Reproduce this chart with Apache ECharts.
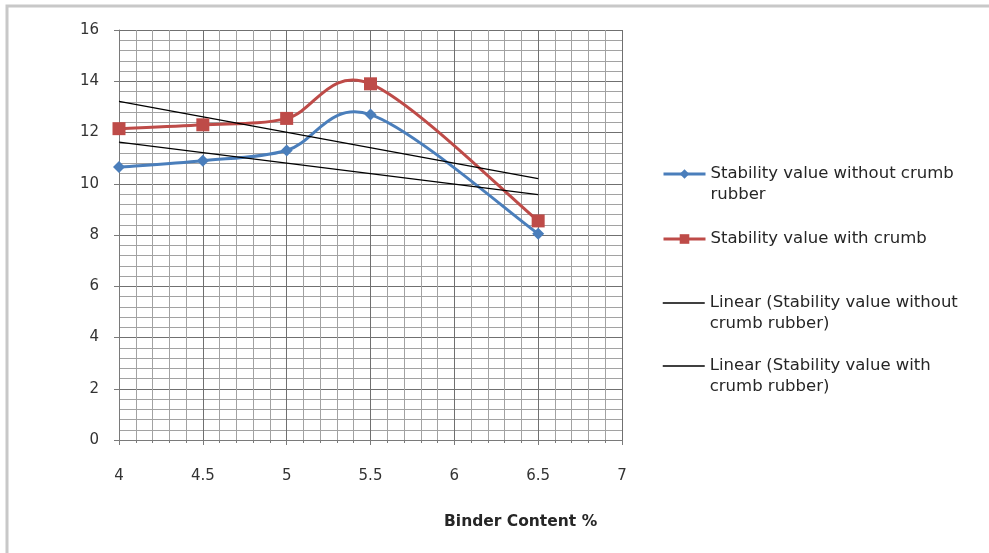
<!DOCTYPE html>
<html>
<head>
<meta charset="utf-8">
<script src="https://cdn.jsdelivr.net/npm/echarts@6/dist/echarts.min.js"></script>
<style>
  html, body { margin: 0; padding: 0; background: #fff; }
  #chart { width: 989px; height: 553px; }
</style>
</head>
<body>
<div id="chart"></div>
<script>
// Binder content (%) tested
const binderContent = [4, 4.5, 5, 5.5, 6.5];
// Marshall stability values
const stabilityWithout = [10.65, 10.9, 11.3, 12.7, 8.05];
const stabilityWith = [12.15, 12.3, 12.55, 13.9, 8.55];

const seriesNames = [
  'Stability value without crumb rubber',
  'Stability value with crumb',
  'Linear (Stability value without crumb rubber)',
  'Linear (Stability value with crumb rubber)'
];
// legend labels as wrapped in the legend box
const legendLines = [
  ['Stability value without crumb', 'rubber'],
  ['Stability value with crumb'],
  ['Linear (Stability value without', 'crumb rubber)'],
  ['Linear (Stability value with', 'crumb rubber)']
];
const xAxisTitle = 'Binder Content %';

// least-squares linear trend, evaluated at first and last x
function linearTrend(xs, ys) {
  const n = xs.length;
  const mx = xs.reduce((a, b) => a + b, 0) / n;
  const my = ys.reduce((a, b) => a + b, 0) / n;
  let sxy = 0, sxx = 0;
  for (let i = 0; i < n; i++) {
    sxy += (xs[i] - mx) * (ys[i] - my);
    sxx += (xs[i] - mx) * (xs[i] - mx);
  }
  const k = sxy / sxx;
  const b = my - k * mx;
  const x0 = xs[0], x1 = xs[n - 1];
  return [[x0, k * x0 + b], [x1, k * x1 + b]];
}

const pairs = ys => binderContent.map((x, i) => [x, ys[i]]);
const FONT = 'DejaVu Sans';
const BLUE = '#4a7ebb';
const RED = '#be4b48';
const LINE_H = 21;

// smoothed connecting line: one cubic Bezier per segment (Catmull-Rom
// tangents) between neighbouring data points, mapped through the axes
function smoothSegment(ys, color) {
  const n = binderContent.length;
  return function (params, api) {
    const i = params.dataIndex;
    if (i >= n - 1) return { type: 'group', children: [] };
    const pt = k => {
      const j = Math.max(0, Math.min(n - 1, k));
      return api.coord([binderContent[j], ys[j]]);
    };
    const p0 = pt(i - 1), p1 = pt(i), p2 = pt(i + 1), p3 = pt(i + 2);
    return {
      type: 'bezierCurve',
      shape: {
        x1: p1[0], y1: p1[1],
        x2: p2[0], y2: p2[1],
        cpx1: p1[0] + (p2[0] - p0[0]) / 6,
        cpy1: p1[1] + (p2[1] - p0[1]) / 6,
        cpx2: p2[0] - (p3[0] - p1[0]) / 6,
        cpy2: p2[1] - (p3[1] - p1[1]) / 6
      },
      style: { stroke: color, lineWidth: 3, fill: null, lineCap: 'round' }
    };
  };
}

// one legend block per series; wrapped labels get an empty leading line so
// the icon sits beside the first line of text
function legendItem(i, centerY, lineStyle, hideSymbol) {
  const lines = legendLines[i];
  const text = lines.length > 1 ? ' \n' + lines.join('\n') : lines[0];
  const boxH = (lines.length > 1 ? lines.length + 1 : 1) * LINE_H;
  const item = {
    data: [seriesNames[i]],
    left: 662,
    top: centerY - boxH / 2,
    padding: 0,
    orient: 'vertical',
    itemWidth: 42,
    itemHeight: 12,
    itemGap: 0,
    selectedMode: false,
    formatter: () => text,
    lineStyle: lineStyle,
    textStyle: {
      fontFamily: FONT,
      fontSize: 16.5,
      color: '#262626',
      lineHeight: LINE_H
    }
  };
  if (hideSymbol) item.itemStyle = { opacity: 0 };
  return item;
}

const chart = echarts.init(document.getElementById('chart'), null, { renderer: 'canvas' });
chart.setOption({
  animation: false,
  backgroundColor: '#fff',
  textStyle: { fontFamily: FONT },
  grid: { left: 119, right: 367, top: 30, bottom: 113, containLabel: false },
  graphic: [
    {
      type: 'rect',
      shape: { x: 7, y: 6, width: 1000, height: 600 },
      style: { fill: null, stroke: '#c8c8c8', lineWidth: 3 },
      silent: true
    },
    {
      type: 'text',
      left: 444,
      top: 514,
      style: {
        text: xAxisTitle,
        fontFamily: FONT,
        fontSize: 15.5,
        fontWeight: 'bold',
        fill: '#262626'
      }
    }
  ],
  legend: [
    legendItem(0, 174, { color: BLUE, width: 3, opacity: 1 }, false),
    legendItem(1, 239, { color: RED, width: 3, opacity: 1 }, false),
    legendItem(2, 303, { color: '#000', width: 1.5, opacity: 1 }, true),
    legendItem(3, 366, { color: '#000', width: 1.5, opacity: 1 }, true)
  ],
  xAxis: {
    type: 'value',
    min: 4,
    max: 7,
    interval: 0.5,
    axisLine: { show: true, lineStyle: { color: '#7a7a7a', width: 1 } },
    axisTick: { show: true, length: 5, lineStyle: { color: '#7a7a7a' } },
    minorTick: { show: true, splitNumber: 5, length: 3, lineStyle: { color: '#7a7a7a' } },
    axisLabel: {
      margin: 29,
      fontFamily: FONT,
      fontSize: 15,
      color: '#333',
      formatter: v => String(v)
    },
    splitLine: { show: true, lineStyle: { color: '#707070', width: 1 } },
    minorSplitLine: { show: true, lineStyle: { color: '#a2a2a2', width: 1 } }
  },
  yAxis: {
    type: 'value',
    min: 0,
    max: 16,
    interval: 2,
    axisLine: { show: true, lineStyle: { color: '#7a7a7a', width: 1 } },
    axisTick: { show: true, length: 5, lineStyle: { color: '#7a7a7a' } },
    minorTick: { show: false, splitNumber: 5 },
    axisLabel: {
      margin: 20,
      fontFamily: FONT,
      fontSize: 15,
      color: '#333'
    },
    splitLine: { show: true, lineStyle: { color: '#707070', width: 1 } },
    minorSplitLine: { show: true, lineStyle: { color: '#a2a2a2', width: 1 } }
  },
  series: [
    {
      name: 'curve-without',
      type: 'custom',
      coordinateSystem: 'cartesian2d',
      data: pairs(stabilityWithout),
      encode: { x: 0, y: 1 },
      renderItem: smoothSegment(stabilityWithout, BLUE),
      silent: true,
      z: 2
    },
    {
      name: 'curve-with',
      type: 'custom',
      coordinateSystem: 'cartesian2d',
      data: pairs(stabilityWith),
      encode: { x: 0, y: 1 },
      renderItem: smoothSegment(stabilityWith, RED),
      silent: true,
      z: 2
    },
    {
      name: seriesNames[0],
      type: 'line',
      data: pairs(stabilityWithout),
      symbol: 'diamond',
      symbolSize: 12,
      lineStyle: { color: BLUE, width: 3, opacity: 0 },
      itemStyle: { color: BLUE },
      z: 5
    },
    {
      name: seriesNames[1],
      type: 'line',
      data: pairs(stabilityWith),
      symbol: 'rect',
      symbolSize: 13,
      lineStyle: { color: RED, width: 3, opacity: 0 },
      itemStyle: { color: RED },
      z: 5
    },
    {
      name: seriesNames[2],
      type: 'line',
      data: linearTrend(binderContent, stabilityWithout),
      symbol: 'none',
      lineStyle: { color: '#000', width: 1.3 },
      itemStyle: { color: '#000' },
      z: 4
    },
    {
      name: seriesNames[3],
      type: 'line',
      data: linearTrend(binderContent, stabilityWith),
      symbol: 'none',
      lineStyle: { color: '#000', width: 1.3 },
      itemStyle: { color: '#000' },
      z: 4
    }
  ]
});
</script>
</body>
</html>
